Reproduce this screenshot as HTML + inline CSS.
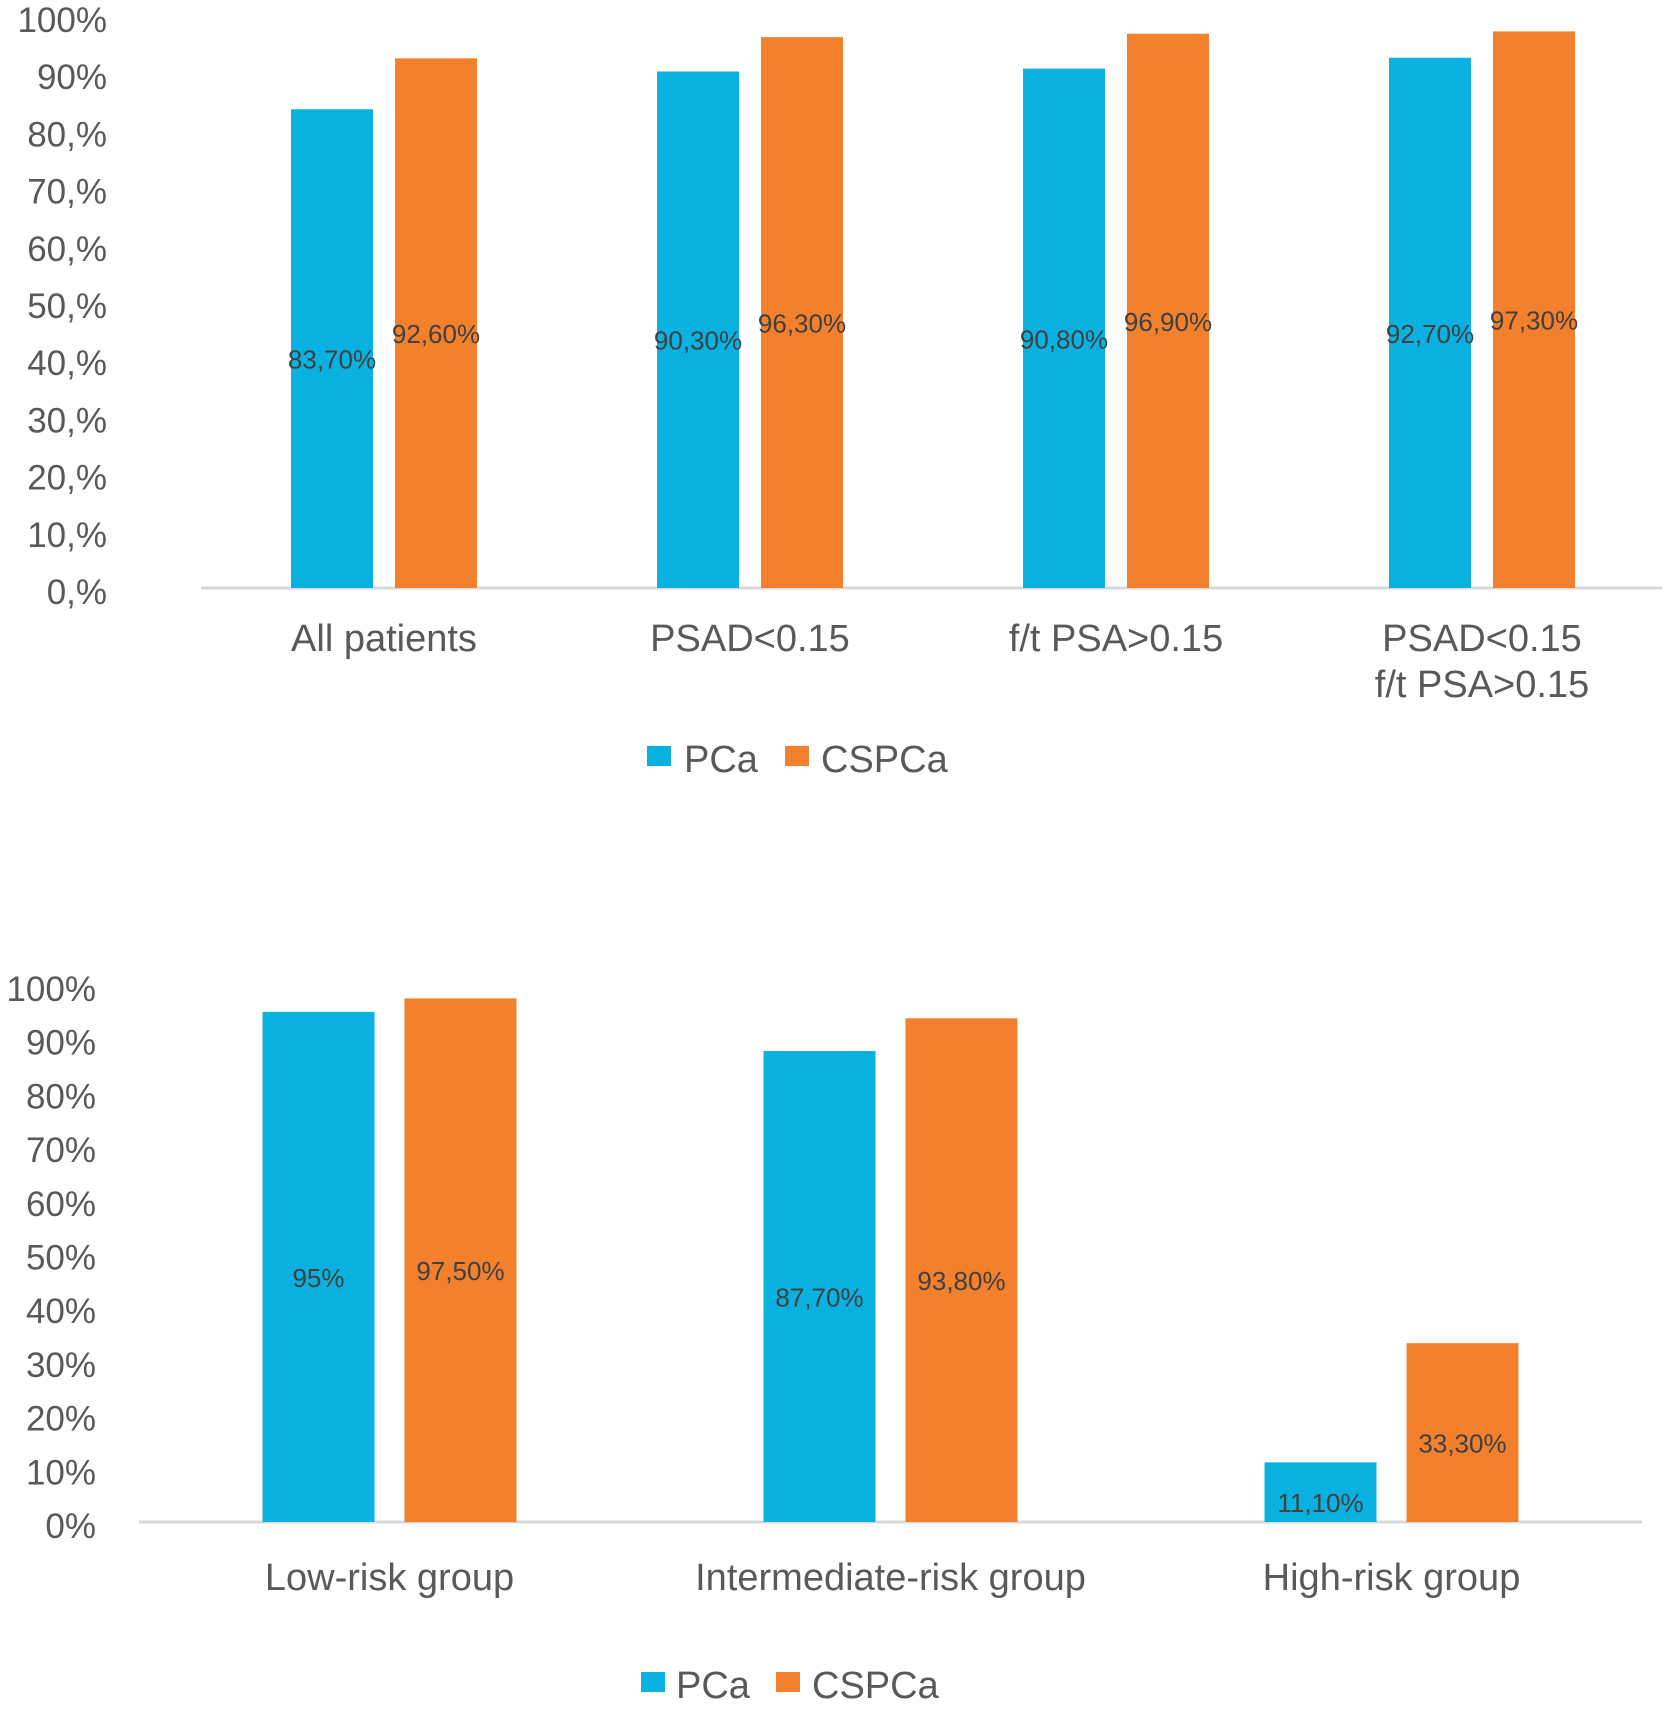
<!DOCTYPE html>
<html><head><meta charset="utf-8"><style>
html,body{margin:0;padding:0;background:#fff;}
svg{display:block;font-family:"Liberation Sans",Arial,sans-serif;}
</style></head><body>
<svg id="chart" width="1667" height="1709" viewBox="0 0 1667 1709" xmlns="http://www.w3.org/2000/svg"></svg>
<script>
// Top chart data
const topCategories = [["All patients"], ["PSAD<0.15"], ["f/t PSA>0.15"], ["PSAD<0.15", "f/t PSA>0.15"]];
const topPCa = [83.7, 90.3, 90.8, 92.7];
const topCSPCa = [92.6, 96.3, 96.9, 97.3];
const topPCaLabels = ["83,70%", "90,30%", "90,80%", "92,70%"];
const topCSPCaLabels = ["92,60%", "96,30%", "96,90%", "97,30%"];
const topTicks = [0, 10, 20, 30, 40, 50, 60, 70, 80, 90, 100];
const topTickLabels = ["0,%", "10,%", "20,%", "30,%", "40,%", "50,%", "60,%", "70,%", "80,%", "90%", "100%"];
// Bottom chart data
const botCategories = [["Low-risk group"], ["Intermediate-risk group"], ["High-risk group"]];
const botPCa = [95, 87.7, 11.1];
const botCSPCa = [97.5, 93.8, 33.3];
const botPCaLabels = ["95%", "87,70%", "11,10%"];
const botCSPCaLabels = ["97,50%", "93,80%", "33,30%"];
const botTicks = [0, 10, 20, 30, 40, 50, 60, 70, 80, 90, 100];
const botTickLabels = ["0%", "10%", "20%", "30%", "40%", "50%", "60%", "70%", "80%", "90%", "100%"];

const NS = "http://www.w3.org/2000/svg";
const svg = document.getElementById("chart");
const BLUE = "#08B1E0", ORANGE = "#F2802D";

function mk(tag, attrs, parent) {
  const e = document.createElementNS(NS, tag);
  for (const k in attrs) e.setAttribute(k, attrs[k]);
  (parent || svg).appendChild(e);
  return e;
}

function drawChart(cfg) {
  const g = mk("g", {});
  
  
  const y = v => cfg.y0 - (v / 100) * cfg.scale;
  const xc = i => cfg.x0 + cfg.band * (i + 0.5);
  cfg.ticks.forEach((t, i) => {
    const tx = mk("text", {x: cfg.tickX, y: y(t) + cfg.tickDy, "text-anchor": "end", "font-size": 35, fill: "#595959"}, g);
    
    
    tx.textContent = cfg.tickLabels[i];
  });
  const ax = mk("line", {x1: cfg.x0, x2: cfg.x1, y1: cfg.y0, y2: cfg.y0, stroke: "#d9d9d9", "stroke-width": 3}, g);
  
  
  cfg.cats.forEach((cat, i) => {
    const c = xc(i);
    [[cfg.pca, cfg.pcaLab, BLUE, c - cfg.off - cfg.bw, 'bar-pca'], [cfg.cspca, cfg.cspcaLab, ORANGE, c + cfg.off, 'bar-cspca']].forEach(s => {
      const v = s[0][i];
      const r = mk("rect", {x: s[3], y: y(v), width: cfg.bw, height: cfg.y0 - y(v), fill: s[2]}, g);
      
      
      const lt = mk("text", {x: s[3] + cfg.bw / 2, y: (y(v) + cfg.y0) / 2 + 20, "text-anchor": "middle", "font-size": 26, fill: "#404040"}, g);
      
      
      lt.textContent = s[1][i];
    });
    cat.forEach((line, j) => {
      const t = mk("text", {x: c, y: cfg.catY + j * 46, "text-anchor": "middle", "font-size": 38, fill: "#595959"}, g);
      
      
      t.textContent = line;
    });
  });
  const L = cfg.legend;
  const s1 = mk("rect", {x: L.bx, y: L.y - 13, width: 24, height: 20, fill: BLUE}, g);
  
  
  const t1 = mk("text", {x: L.tx1, y: L.y + 13, "font-size": 38, fill: "#595959"}, g);
  
  
  t1.textContent = "PCa";
  const s2 = mk("rect", {x: L.ox, y: L.y - 13, width: 24, height: 20, fill: ORANGE}, g);
  
  
  const t2 = mk("text", {x: L.tx2, y: L.y + 13, "font-size": 38, fill: "#595959"}, g);
  
  
  t2.textContent = "CSPCa";
}

drawChart({name: "top-chart", y0: 588, scale: 572, x0: 201, x1: 1662, band: 366, bw: 82, off: 11,
  tickX: 107, tickDy: 16, ticks: topTicks, tickLabels: topTickLabels,
  cats: topCategories, pca: topPCa, cspca: topCSPCa, pcaLab: topPCaLabels, cspcaLab: topCSPCaLabels,
  catY: 651, legend: {y: 759, bx: 647, tx1: 684, ox: 785, tx2: 821}});
drawChart({name: "bottom-chart", y0: 1522, scale: 537, x0: 139, x1: 1642, band: 501, bw: 112, off: 15,
  tickX: 96, tickDy: 16, ticks: botTicks, tickLabels: botTickLabels,
  cats: botCategories, pca: botPCa, cspca: botCSPCa, pcaLab: botPCaLabels, cspcaLab: botCSPCaLabels,
  catY: 1590, legend: {y: 1685, bx: 641, tx1: 676, ox: 776, tx2: 812}});
</script>
</body></html>
